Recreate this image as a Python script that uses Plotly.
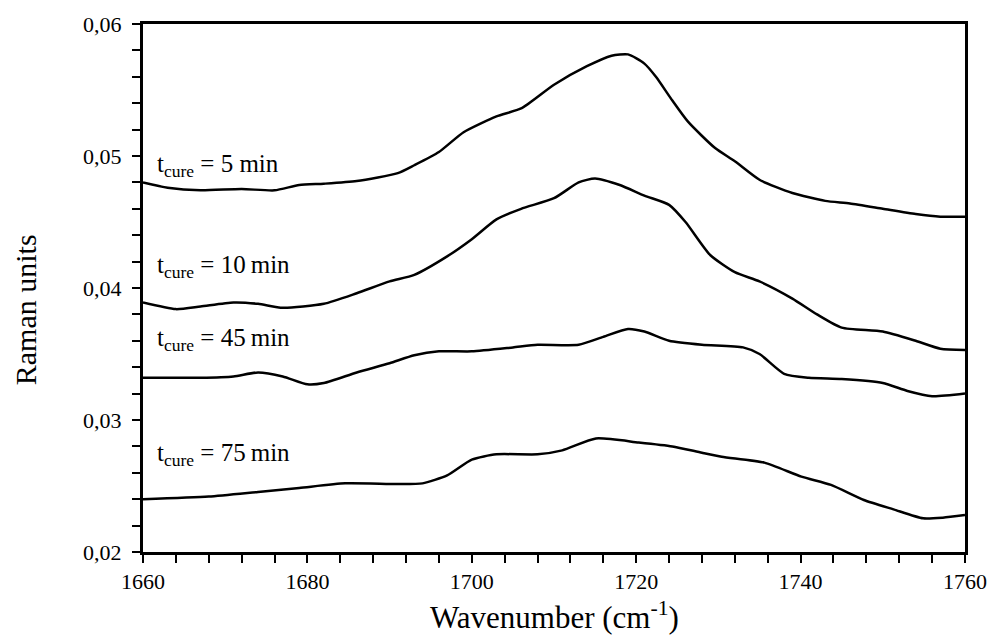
import plotly.graph_objects as go

# --- data ---
x5 = [1660,1663,1667,1672,1676,1679,1682,1686,1691,1693,1696,1699,1703,1706,1710,1714,1717,1719,1721,1722.4,1724.4,1726.3,1729.6,1732,1735,1739,1743,1746,1750,1754,1757,1760]
y5 = [0.0480,0.0476,0.0474,0.0475,0.0474,0.0478,0.0479,0.0481,0.0487,0.0493,0.0503,0.0518,0.0530,0.0536,0.0554,0.0568,0.0576,0.0577,0.0570,0.0560,0.0542,0.0526,0.0506,0.0496,0.0482,0.0472,0.0466,0.0464,0.0460,0.0456,0.0454,0.0454]

x10 = [1660,1664,1667,1671,1674,1677,1682,1686,1690,1693,1697,1700,1703,1706,1710,1713,1715,1718,1721,1724,1726,1729,1732,1735,1739,1742,1745,1750,1754,1757,1760]
y10 = [0.0389,0.0384,0.0386,0.0389,0.0388,0.0385,0.0388,0.0396,0.0405,0.0410,0.0424,0.0437,0.0452,0.0460,0.0468,0.0480,0.0483,0.0478,0.0470,0.0463,0.0450,0.0425,0.0412,0.0405,0.0392,0.0380,0.0370,0.0367,0.0360,0.0354,0.0353]

x45 = [1660,1667,1671,1674,1677,1680,1682,1686,1690,1693,1696,1700,1705,1708,1713,1716,1719,1721,1724,1728,1733,1735,1738,1741,1745,1750,1753,1756,1760]
y45 = [0.0332,0.0332,0.0333,0.0336,0.0333,0.0327,0.0328,0.0336,0.0343,0.0349,0.0352,0.0352,0.0355,0.0357,0.0357,0.0363,0.0369,0.0367,0.0360,0.0357,0.0355,0.0350,0.0335,0.0332,0.0331,0.0328,0.0322,0.0318,0.0320]

x75 = [1660,1668,1674,1679,1684.6,1691,1694,1697,1700,1703,1708,1711,1715.1,1720.3,1724.4,1728,1730.4,1735.6,1740.1,1743.7,1747.7,1751.3,1754.9,1757.3,1760]
y75 = [0.0240,0.0242,0.02455,0.02485,0.0252,0.02515,0.0252,0.0258,0.0270,0.0274,0.0274,0.0277,0.0286,0.0283,0.0280,0.02752,0.02722,0.02677,0.02571,0.02508,0.02394,0.02323,0.02255,0.0226,0.0228]

series = [(x5, y5), (x10, y10), (x45, y45), (x75, y75)]
labels = ["t<sub>cure</sub> = 5 min", "t<sub>cure</sub> = 10\u2009min",
          "t<sub>cure</sub> = 45\u2009min", "t<sub>cure</sub> = 75\u2009min"]
label_y = [0.0493, 0.0416, 0.0361, 0.0274]

FONT = "Liberation Serif"

fig = go.Figure()
for xs, ys in series:
    fig.add_trace(go.Scatter(x=xs, y=ys, mode="lines",
                             line=dict(color="black", width=2.5, shape="spline", smoothing=0.6),
                             showlegend=False, hoverinfo="skip"))

for txt, ly in zip(labels, label_y):
    fig.add_annotation(x=1661.5, y=ly, xref="x", yref="y", text=txt, showarrow=False,
                       xanchor="left", yanchor="middle",
                       font=dict(family=FONT, size=25, color="black"))

fig.add_annotation(text="Raman units", xref="paper", yref="paper", x=-0.1435, y=0.458,
                   textangle=-90, showarrow=False, xanchor="center", yanchor="middle",
                   font=dict(family=FONT, size=30, color="black"))
fig.add_annotation(text="Wavenumber (cm<sup>-1</sup>)", xref="paper", yref="paper", x=0.5, y=-0.12,
                   showarrow=False, xanchor="center", yanchor="middle",
                   font=dict(family=FONT, size=31, color="black"))

axis_common = dict(showline=True, linecolor="black", linewidth=3, mirror=True,
                   ticks="outside", ticklen=8, tickwidth=2, tickcolor="black",
                   showgrid=False, zeroline=False,
                   tickfont=dict(family=FONT, size=22, color="black"))

fig.update_xaxes(range=[1660, 1760], dtick=20, tick0=1660,
                 minor=dict(dtick=4, ticks="outside", ticklen=8, tickwidth=2, tickcolor="black", showgrid=False),
                 **axis_common)
fig.update_yaxes(range=[0.02, 0.06], dtick=0.01, tick0=0.02, tickformat=".2f",
                 minor=dict(dtick=0.002, ticks="outside", ticklen=8, tickwidth=2, tickcolor="black", showgrid=False),
                 ticklabelstandoff=6,
                 **axis_common)

fig.update_layout(width=999, height=643, separators=",.",
                  margin=dict(l=143, r=27, t=24, b=91),
                  paper_bgcolor="white", plot_bgcolor="white")

fig.write_html("out.html")
